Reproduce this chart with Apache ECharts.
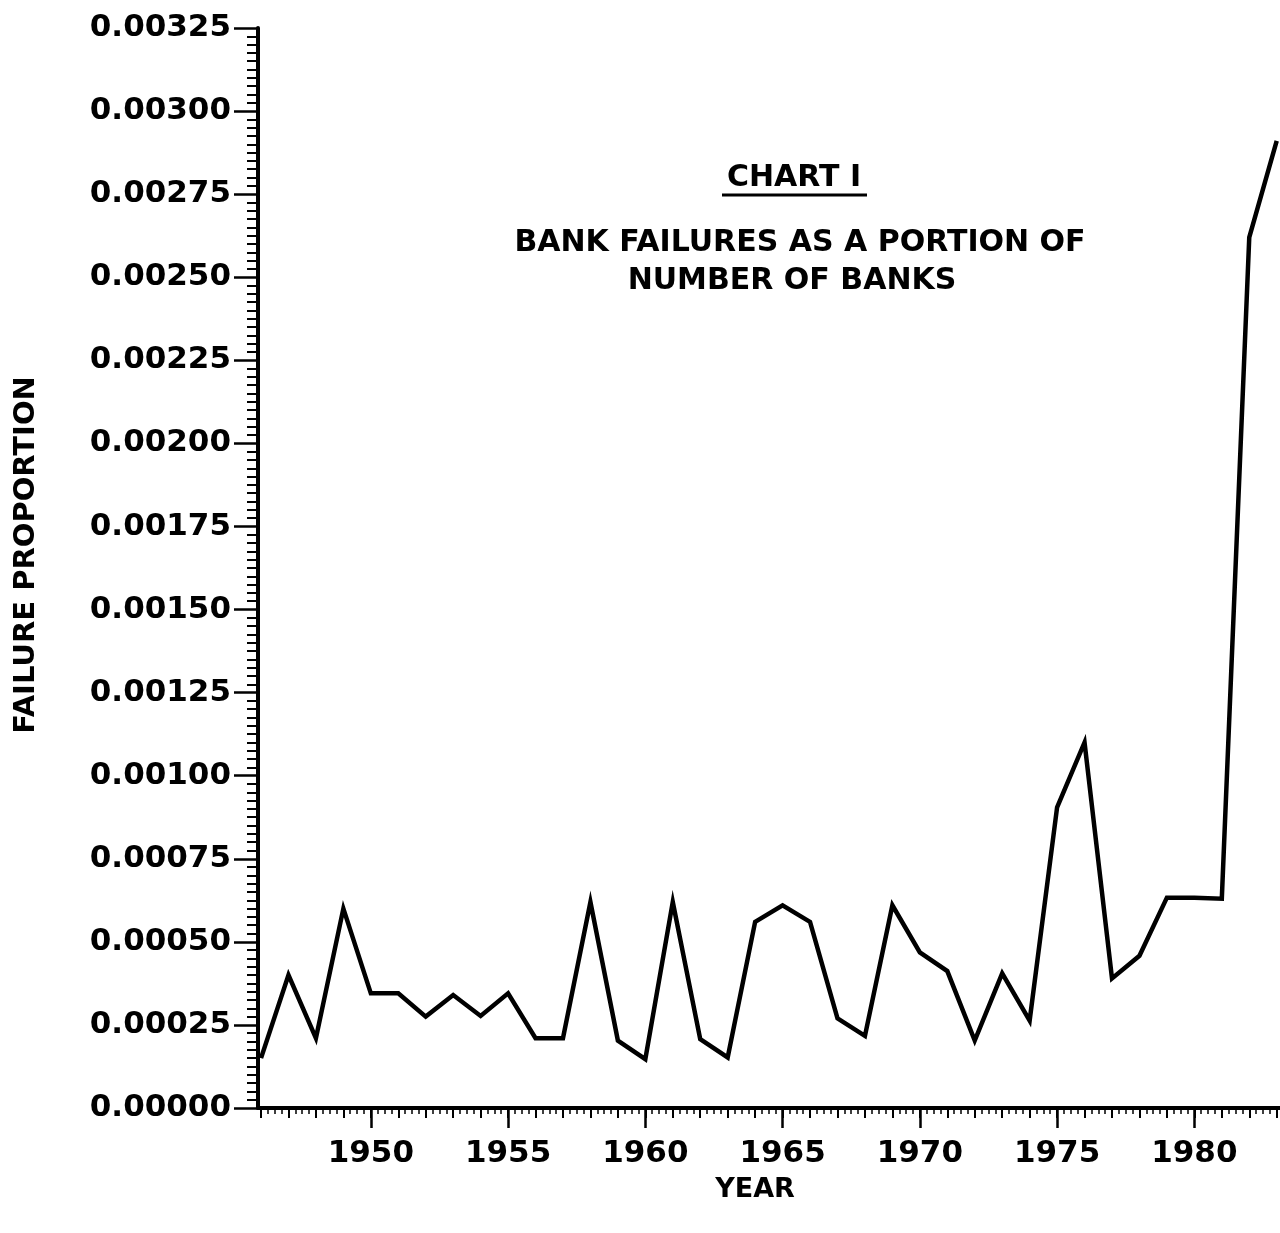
<!DOCTYPE html>
<html>
<head>
<meta charset="utf-8">
<script src="https://cdn.jsdelivr.net/npm/echarts@6/dist/echarts.min.js"></script>
<style>
html,body{margin:0;padding:0;background:#ffffff;}
#chart{width:1280px;height:1233px;}
</style>
</head>
<body>
<div id="chart"></div>
<script>
// ---- data ----
const years = [1946,1947,1948,1949,1950,1951,1952,1953,1954,1955,1956,1957,1958,1959,1960,1961,1962,1963,1964,1965,1966,1967,1968,1969,1970,1971,1972,1973,1974,1975,1976,1977,1978,1979,1980,1981,1982,1983];
const failureProportion = [0.00015,0.00040,0.00021,0.00060,0.000345,0.000345,0.000275,0.00034,0.000277,0.000345,0.00021,0.00021,0.00062,0.000203,0.000147,0.00062,0.000207,0.000152,0.00056,0.00061,0.00056,0.00027,0.000217,0.00061,0.000468,0.000412,0.000203,0.000405,0.000263,0.000905,0.0011,0.00039,0.000458,0.000633,0.000633,0.00063,0.00262,0.00291];
const yearTickLabels = [1950,1955,1960,1965,1970,1975,1980];
const yTickLabels = ['0.00000','0.00025','0.00050','0.00075','0.00100','0.00125','0.00150','0.00175','0.00200','0.00225','0.00250','0.00275','0.00300','0.00325'];
const chartLabel = 'CHART I';
const titleLines = ['BANK FAILURES AS A PORTION OF', 'NUMBER OF BANKS'];
const yAxisName = 'FAILURE PROPORTION';
const xAxisName = 'YEAR';

// tick positions (axis decoration only)
const yearTicks = years.slice();
const quarterTicks = [];
for (const y of years) { for (let q = 1; q < 4; q++) quarterTicks.push(y + q / 4); }

const FONT = 'DejaVu Sans';
const X_MIN = 1945.89, X_MAX = 1983.12;

const chart = echarts.init(document.getElementById('chart'), null, {renderer: 'canvas'});
const seriesData = years.map((y, i) => [y, failureProportion[i]]);

const baseX = {
  type: 'value', gridIndex: 0, position: 'bottom', min: X_MIN, max: X_MAX,
  splitLine: {show: false}, axisLabel: {show: false}, axisLine: {show: false}
};

chart.setOption({
  backgroundColor: '#ffffff',
  animation: false,
  grid: {left: 258, right: 0, top: 28, bottom: 125, containLabel: false},
  graphic: [
    {type: 'text', x: 794, y: 178, style: {text: chartLabel, font: 'bold 30px "' + FONT + '"', fill: '#000', align: 'center', verticalAlign: 'middle'}},
    {type: 'line', shape: {x1: 722, y1: 195, x2: 867, y2: 195}, style: {stroke: '#000', lineWidth: 3}},
    {type: 'text', x: 800, y: 243, style: {text: titleLines[0], font: 'bold 30px "' + FONT + '"', fill: '#000', align: 'center', verticalAlign: 'middle'}},
    {type: 'text', x: 792, y: 281, style: {text: titleLines[1], font: 'bold 30px "' + FONT + '"', fill: '#000', align: 'center', verticalAlign: 'middle'}},
    {type: 'text', x: 26, y: 555, rotation: Math.PI / 2, style: {text: yAxisName, font: 'bold 29px "' + FONT + '"', fill: '#000', align: 'center', verticalAlign: 'middle'}}
  ],
  xAxis: [
    Object.assign({}, baseX, {
      axisLine: {show: true, lineStyle: {color: '#000', width: 4}},
      axisTick: {show: true, customValues: yearTickLabels, length: 20, lineStyle: {color: '#000', width: 2.5}},
      axisLabel: {show: true, customValues: yearTickLabels, formatter: v => String(Math.round(v)), color: '#000', fontFamily: FONT, fontWeight: 'bold', fontSize: 31, margin: 30},
      name: xAxisName, nameLocation: 'middle', nameGap: 68,
      nameTextStyle: {color: '#000', fontFamily: FONT, fontWeight: 'bold', fontSize: 27, padding: [0, 28, 0, 0]}
    }),
    Object.assign({}, baseX, {
      axisTick: {show: true, customValues: yearTicks, length: 10, lineStyle: {color: '#000', width: 2}}
    }),
    Object.assign({}, baseX, {
      axisTick: {show: true, customValues: quarterTicks, length: 6, lineStyle: {color: '#000', width: 1.5}}
    })
  ],
  yAxis: {
    type: 'value', min: 0, max: 0.00325, interval: 0.00025,
    axisLine: {show: true, lineStyle: {color: '#000', width: 4}},
    axisTick: {show: true, length: 24, lineStyle: {color: '#000', width: 2.5}},
    minorTick: {show: true, splitNumber: 10, length: 11, lineStyle: {color: '#000', width: 2}},
    splitLine: {show: false},
    axisLabel: {
      color: '#000', fontFamily: FONT, fontWeight: 'bold', fontSize: 31, margin: 27,
      formatter: v => yTickLabels[Math.round(v / 0.00025)]
    }
  },
  series: [{
    type: 'line', xAxisIndex: 0, yAxisIndex: 0, data: seriesData,
    symbol: 'none', clip: true,
    lineStyle: {color: '#000', width: 4.5, join: 'miter', miterLimit: 6}
  }]
});
</script>
</body>
</html>
